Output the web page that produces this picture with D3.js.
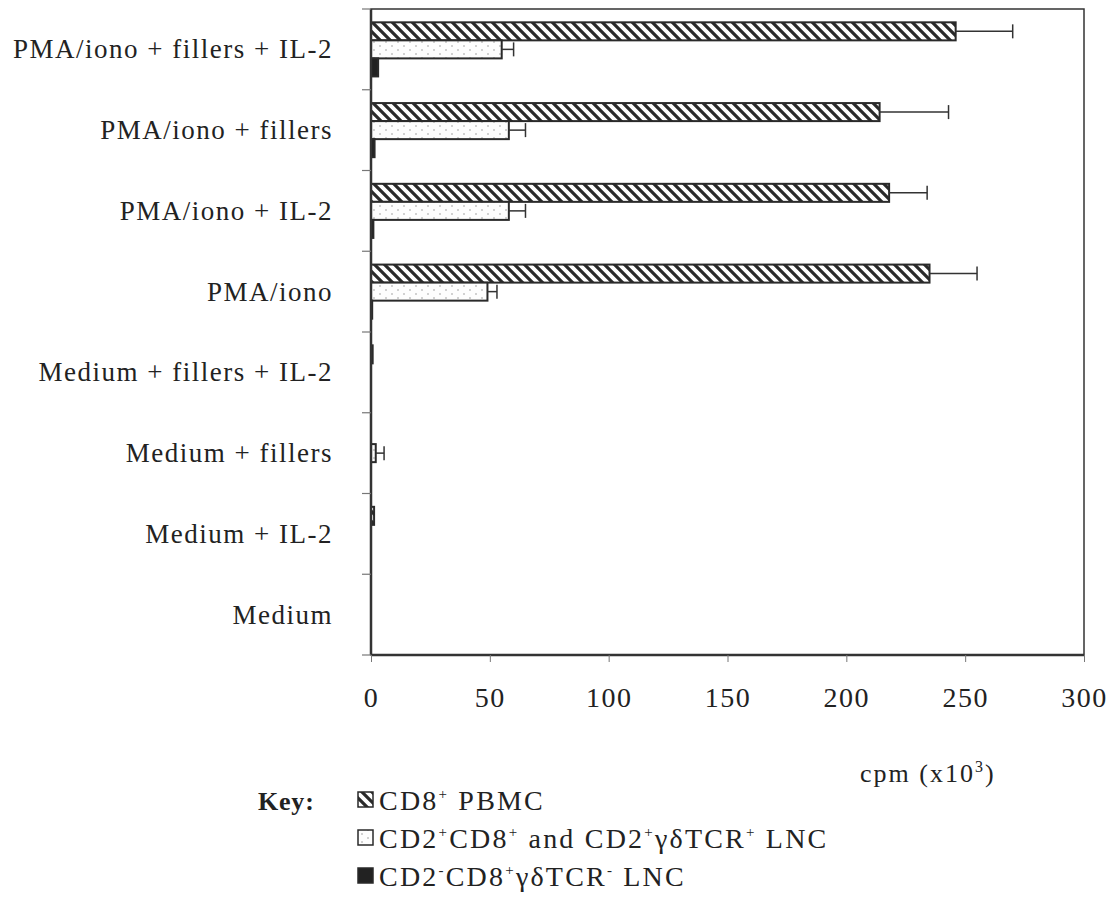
<!DOCTYPE html>
<html>
<head>
<meta charset="utf-8">
<script src="https://cdn.jsdelivr.net/npm/d3@7"></script>
<style>
  body { margin: 0; background: #fff; }
  text { font-family: "Liberation Serif", "DejaVu Serif", serif; fill: #222; }
</style>
</head>
<body>
<div id="main"></div>
<script>
// categories, top to bottom
var categories = ["PMA/iono + fillers + IL-2", "PMA/iono + fillers", "PMA/iono + IL-2", "PMA/iono",
  "Medium + fillers + IL-2", "Medium + fillers", "Medium + IL-2", "Medium"];

// cpm (x10^3)
var pbmc      = [246, 214, 218, 235, 0.7, 0, 1.3, 0];
var pbmcErr   = [24, 29, 16, 20, 0, 0, 0, 0];
var lncPos    = [55, 58, 58, 49, 0, 2, 0, 0];
var lncPosErr = [5, 7, 7, 4, 0, 3.5, 0, 0];
var lncNeg    = [3, 1.5, 1, 0.5, 0, 0, 0, 0];
var lncNegErr = [0, 0, 0, 0, 0, 0, 0, 0];

var xTicks = [0, 50, 100, 150, 200, 250, 300];

var width = 1116, height = 897;
var plotL = 371, plotR = 1084, plotT = 9, plotB = 655;

var svg = d3.select("#main").append("svg")
  .attr("width", width)
  .attr("height", height);

var defs = svg.append("defs");
var hatch = defs.append("pattern")
  .attr("id", "hatch")
  .attr("patternUnits", "userSpaceOnUse")
  .attr("width", 10).attr("height", 10);
hatch.append("rect").attr("width", 10).attr("height", 10).attr("fill", "#fff");
hatch.append("path")
  .attr("d", "M-3,-3 L13,13 M-3,7 L3,13 M7,-3 L13,3")
  .attr("stroke", "#2a2a2a").attr("stroke-width", 3.2);

var dots = defs.append("pattern")
  .attr("id", "dots")
  .attr("patternUnits", "userSpaceOnUse")
  .attr("width", 12).attr("height", 8);
dots.append("rect").attr("width", 12).attr("height", 8).attr("fill", "#fdfdfd");
dots.append("circle").attr("cx", 2).attr("cy", 2).attr("r", 0.8).attr("fill", "#999");
dots.append("circle").attr("cx", 8).attr("cy", 6).attr("r", 0.8).attr("fill", "#999");

var series = [
  { key: "pbmc", values: pbmc, err: pbmcErr, fill: "url(#hatch)" },
  { key: "pos", values: lncPos, err: lncPosErr, fill: "url(#dots)" },
  { key: "neg", values: lncNeg, err: lncNegErr, fill: "#222" }
];

var x = d3.scaleLinear().domain([0, 300]).range([plotL, plotR]);

var y0 = d3.scaleBand()
  .domain(categories)
  .range([plotT, plotB])
  .paddingInner(0.33)
  .paddingOuter(0.165);

var y1 = d3.scaleBand()
  .domain(series.map(function (d) { return d.key; }))
  .range([0, y0.bandwidth()]);

// frame
svg.append("rect")
  .attr("x", plotL).attr("y", plotT)
  .attr("width", plotR - plotL).attr("height", plotB - plotT)
  .attr("fill", "none").attr("stroke", "#333").attr("stroke-width", 1.5);

// bars
series.forEach(function (s) {
  var g = svg.append("g");
  g.selectAll("rect")
    .data(categories.filter(function (d, i) { return s.values[i] > 0; }))
    .enter().append("rect")
    .attr("x", x(0))
    .attr("y", function (d) { return y0(d) + y1(s.key); })
    .attr("width", function (d) { return x(s.values[categories.indexOf(d)]) - x(0); })
    .attr("height", y1.bandwidth())
    .attr("fill", s.fill)
    .attr("stroke", "#2a2a2a")
    .attr("stroke-width", 2);

  categories.forEach(function (c, i) {
    if (!s.err[i]) return;
    var cy = y0(c) + y1(s.key) + y1.bandwidth() / 2;
    g.append("line")
      .attr("x1", x(s.values[i])).attr("x2", x(s.values[i] + s.err[i]))
      .attr("y1", cy).attr("y2", cy)
      .attr("stroke", "#333").attr("stroke-width", 1.5);
    g.append("line")
      .attr("x1", x(s.values[i] + s.err[i])).attr("x2", x(s.values[i] + s.err[i]))
      .attr("y1", cy - 7).attr("y2", cy + 7)
      .attr("stroke", "#333").attr("stroke-width", 1.5);
  });
});

// axes lines (thicker left and bottom)
svg.append("line").attr("x1", plotL).attr("x2", plotL).attr("y1", plotT).attr("y2", plotB)
  .attr("stroke", "#333").attr("stroke-width", 2.5);
svg.append("line").attr("x1", plotL).attr("x2", plotR).attr("y1", plotB).attr("y2", plotB)
  .attr("stroke", "#333").attr("stroke-width", 2.5);

// y ticks at band boundaries
var step = y0.step();
d3.range(categories.length + 1).forEach(function (i) {
  var yy = plotT + i * step;
  svg.append("line").attr("x1", plotL - 9).attr("x2", plotL).attr("y1", yy).attr("y2", yy)
    .attr("stroke", "#777").attr("stroke-width", 1.2);
});

// category labels
svg.append("g").selectAll("text")
  .data(categories)
  .enter().append("text")
  .attr("x", 333)
  .attr("y", function (d) { return y0(d) + y0.bandwidth() / 2 + 9; })
  .attr("text-anchor", "end")
  .attr("font-size", 27)
  .attr("letter-spacing", 1.5)
  .text(function (d) { return d; });

// x axis
var xAxis = svg.append("g")
  .attr("transform", "translate(0," + plotB + ")")
  .call(d3.axisBottom(x).tickValues(xTicks).tickSize(7).tickPadding(25));
xAxis.select(".domain").remove();
xAxis.selectAll("line").attr("stroke", "#777");
xAxis.selectAll("text")
  .attr("font-size", 28)
  .attr("letter-spacing", 1.5)
  .attr("font-family", "Liberation Serif, serif")
  .attr("fill", "#222");

// axis title
var title = svg.append("text").attr("x", 860).attr("y", 782)
  .attr("font-size", 26).attr("letter-spacing", 2);
title.append("tspan").text("cpm (x10");
title.append("tspan").attr("dy", -10).attr("font-size", 16).text("3");
title.append("tspan").attr("dy", 10).text(")");

// key
svg.append("text")
  .attr("x", 258).attr("y", 810)
  .attr("font-size", 26).attr("font-weight", "bold").attr("letter-spacing", 0.8)
  .text("Key:");

var legend = [
  { fill: "url(#hatch)", parts: [["CD8", 0], ["+", 1], [" PBMC", 0]] },
  { fill: "url(#dots)", parts: [["CD2", 0], ["+", 1], ["CD8", 0], ["+", 1], [" and CD2", 0], ["+", 1], ["\u03b3\u03b4TCR", 0], ["+", 1], [" LNC", 0]] },
  { fill: "#222", parts: [["CD2", 0], ["-", 1], ["CD8", 0], ["+", 1], ["\u03b3\u03b4TCR", 0], ["-", 1], [" LNC", 0]] }
];
var legendY = [810, 848, 886];

legend.forEach(function (item, i) {
  svg.append("rect")
    .attr("x", 358).attr("y", legendY[i] - 18)
    .attr("width", 15).attr("height", 15)
    .attr("fill", item.fill)
    .attr("stroke", "#2a2a2a").attr("stroke-width", 1.5);
  var t = svg.append("text").attr("x", 379).attr("y", legendY[i])
    .attr("font-size", 28).attr("letter-spacing", 2.2);
  var up = false;
  item.parts.forEach(function (p) {
    var ts = t.append("tspan").text(p[0]);
    if (p[1] && !up) { ts.attr("dy", -11).attr("font-size", 15); up = true; }
    else if (p[1]) { ts.attr("font-size", 15); }
    else if (up) { ts.attr("dy", 11); up = false; }
  });
});
</script>
</body>
</html>
